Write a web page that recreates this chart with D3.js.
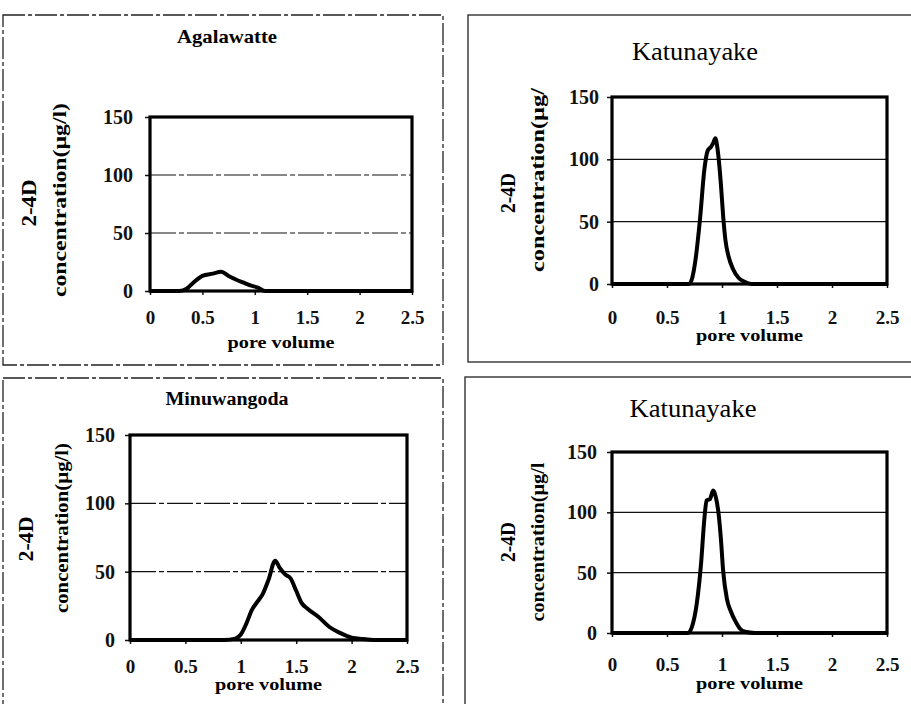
<!DOCTYPE html>
<html>
<head>
<meta charset="utf-8">
<script src="https://cdn.jsdelivr.net/npm/d3@7"></script>
<style>
  body { margin: 0; background: #fff; }
  svg { display: block; font-family: "Liberation Serif", "Times New Roman", serif; }
  .tick text { font-weight: bold; fill: #111; }
</style>
</head>
<body>
<svg width="911" height="704"></svg>
<script>
// axis ticks shared by every panel
const xTicks = [0, 0.5, 1, 1.5, 2, 2.5];
const yTicks = [0, 50, 100, 150];

const titles = ['Agalawatte', 'Katunayake', 'Minuwangoda', 'Katunayake'];
const yLabels = ['concentration(\u00b5g/l)', 'concentration(\u00b5g/', 'concentration(\u00b5g/l)', 'concentration(\u00b5g/l'];

// breakthrough curves
const agalawatteVol  = [0, 0.2, 0.28, 0.35, 0.4, 0.5, 0.6, 0.68, 0.75, 0.83, 0.9, 0.95, 1.03, 1.1, 1.5, 2, 2.5];
const agalawatteConc = [0, 0, 0, 2, 6, 13, 15, 16.5, 13, 9.5, 7, 5, 3, 0, 0, 0, 0];

const katunayakeVol  = [0, 0.5, 0.7, 0.73, 0.76, 0.8, 0.84, 0.87, 0.9, 0.92, 0.94, 0.96, 0.99, 1.01, 1.03, 1.06, 1.1, 1.15, 1.2, 1.27, 1.5, 2, 2.5];
const katunayakeConc = [0, 0, 0, 5, 20, 52, 92, 107, 110, 113, 117, 108, 80, 55, 36, 22, 12, 5, 2, 0, 0, 0, 0];

const minuwangodaVol  = [0, 0.5, 0.85, 0.95, 1.0, 1.05, 1.1, 1.15, 1.2, 1.25, 1.31, 1.35, 1.4, 1.45, 1.5, 1.55, 1.6, 1.7, 1.8, 1.9, 2.0, 2.1, 2.2, 2.5];
const minuwangodaConc = [0, 0, 0, 1, 4, 12, 22, 28, 34, 44, 58, 53, 48, 45, 36, 27, 23, 17, 9.5, 5, 1.7, 0.7, 0, 0];

const katunayake2Vol  = [0, 0.5, 0.69, 0.73, 0.77, 0.81, 0.84, 0.86, 0.89, 0.92, 0.94, 0.97, 0.99, 1.01, 1.045, 1.08, 1.12, 1.16, 1.21, 1.3, 1.5, 2, 2.5];
const katunayake2Conc = [0, 0, 0, 6, 24, 58, 95, 110, 111, 118, 114, 98, 78, 52, 28, 18, 10, 4, 1, 0, 0, 0, 0];

const series = [
  [agalawatteVol, agalawatteConc],
  [katunayakeVol, katunayakeConc],
  [minuwangodaVol, minuwangodaConc],
  [katunayake2Vol, katunayake2Conc]
];

// layout of the four panels (pixels)
const panels = [
  { box: [3, 15, 440, 350], plot: [150, 117, 412, 291], dashed: true,
    title: { x: 227, y: 43, size: 19, weight: 'bold', len: 100 },
    y1: { x: 36, y: 203, len: 47 }, y2: { x: 66, y: 200, len: 194 },
    xLab: 33, yLab: 17, pore: 348 },
  { box: [468, 15, 460, 347], plot: [612, 97, 887, 284], dashed: false,
    title: { x: 695, y: 60, size: 25, weight: 'normal', len: 126 },
    y1: { x: 515, y: 193, len: 40 }, y2: { x: 544, y: 180, len: 184 },
    xLab: 40, yLab: 13, pore: 341 },
  { box: [3, 378, 440, 340], plot: [130, 435, 407, 640], dashed: true,
    title: { x: 227, y: 405, size: 18, weight: 'bold', len: 123 },
    y1: { x: 33, y: 539, len: 45 }, y2: { x: 68, y: 528, len: 170 },
    xLab: 33, yLab: 15, pore: 690 },
  { box: [465, 377, 460, 340], plot: [612, 452, 887, 633], dashed: false,
    title: { x: 693, y: 417, size: 25, weight: 'normal', len: 127 },
    y1: { x: 515, y: 542, len: 40 }, y2: { x: 544, y: 542, len: 159 },
    xLab: 38, yLab: 15, pore: 689 }
];

const svg = d3.select('svg');
const serif = '"Liberation Serif", "Times New Roman", serif';

panels.forEach((p, i) => {
  const [l, t, r, b] = p.plot;
  const [vol, conc] = series[i];
  const g = svg.append('g');

  // outer frame of the panel
  g.append('rect')
    .attr('x', p.box[0]).attr('y', p.box[1])
    .attr('width', p.box[2]).attr('height', p.box[3])
    .attr('fill', 'none')
    .attr('stroke', '#222')
    .attr('stroke-width', 1.3)
    .attr('stroke-dasharray', p.dashed ? '22,3,4,3' : null);

  const x = d3.scaleLinear().domain([0, 2.5]).range([l, r]);
  const y = d3.scaleLinear().domain([0, 150]).range([b, t]);

  // grid lines
  g.selectAll('.grid')
    .data(yTicks.filter(v => v > 0 && v < 150))
    .enter().append('line')
    .attr('x1', l).attr('x2', r)
    .attr('y1', d => y(d)).attr('y2', d => y(d))
    .attr('stroke', '#111')
    .attr('stroke-width', 1.2)
    .attr('stroke-dasharray', p.dashed ? '26,3,5,3' : null);

  // axes
  const xAxis = g.append('g')
    .attr('transform', `translate(0,${b})`)
    .call(d3.axisBottom(x).tickValues(xTicks).tickFormat(d3.format('')).tickSize(4))
    .attr('font-family', serif);
  xAxis.select('.domain').remove();
  xAxis.selectAll('line').attr('stroke', '#111').attr('stroke-width', 1.5);
  xAxis.selectAll('text')
    .attr('dy', null)
    .attr('y', p.xLab)
    .attr('font-size', 19);

  const yAxis = g.append('g')
    .attr('transform', `translate(${l},0)`)
    .call(d3.axisLeft(y).tickValues(yTicks).tickSize(5).tickPadding(p.yLab - 5))
    .attr('font-family', serif);
  yAxis.select('.domain').remove();
  yAxis.selectAll('line').attr('stroke', '#111').attr('stroke-width', 1.5);
  yAxis.selectAll('text').attr('font-size', 20);

  // plot frame
  g.append('rect')
    .attr('x', l).attr('y', t)
    .attr('width', r - l).attr('height', b - t)
    .attr('fill', 'none')
    .attr('stroke', '#000')
    .attr('stroke-width', 3.2);

  // curve
  const line = d3.line()
    .x(d => x(d[0]))
    .y(d => y(d[1]))
    .curve(d3.curveMonotoneX);
  g.append('path')
    .datum(d3.zip(vol, conc))
    .attr('d', line)
    .attr('fill', 'none')
    .attr('stroke', '#000')
    .attr('stroke-width', 4)
    .attr('stroke-linejoin', 'round');

  // title
  g.append('text')
    .attr('x', p.title.x).attr('y', p.title.y)
    .attr('text-anchor', 'middle')
    .attr('font-size', p.title.size)
    .attr('font-weight', p.title.weight)
    .attr('textLength', p.title.len)
    .attr('lengthAdjust', 'spacingAndGlyphs')
    .text(titles[i]);

  // x label
  g.append('text')
    .attr('x', (l + r) / 2).attr('y', p.pore)
    .attr('text-anchor', 'middle')
    .attr('font-size', 17)
    .attr('font-weight', 'bold')
    .attr('textLength', 107)
    .attr('lengthAdjust', 'spacingAndGlyphs')
    .text('pore volume');

  // y label, two lines
  g.append('text')
    .attr('transform', `translate(${p.y1.x},${p.y1.y}) rotate(-90)`)
    .attr('text-anchor', 'middle')
    .attr('font-size', 20)
    .attr('font-weight', 'bold')
    .attr('textLength', p.y1.len)
    .attr('lengthAdjust', 'spacingAndGlyphs')
    .text('2-4D');

  g.append('text')
    .attr('transform', `translate(${p.y2.x},${p.y2.y}) rotate(-90)`)
    .attr('text-anchor', 'middle')
    .attr('font-size', 18)
    .attr('font-weight', 'bold')
    .attr('textLength', p.y2.len)
    .attr('lengthAdjust', 'spacingAndGlyphs')
    .text(yLabels[i]);
});
</script>
</body>
</html>
